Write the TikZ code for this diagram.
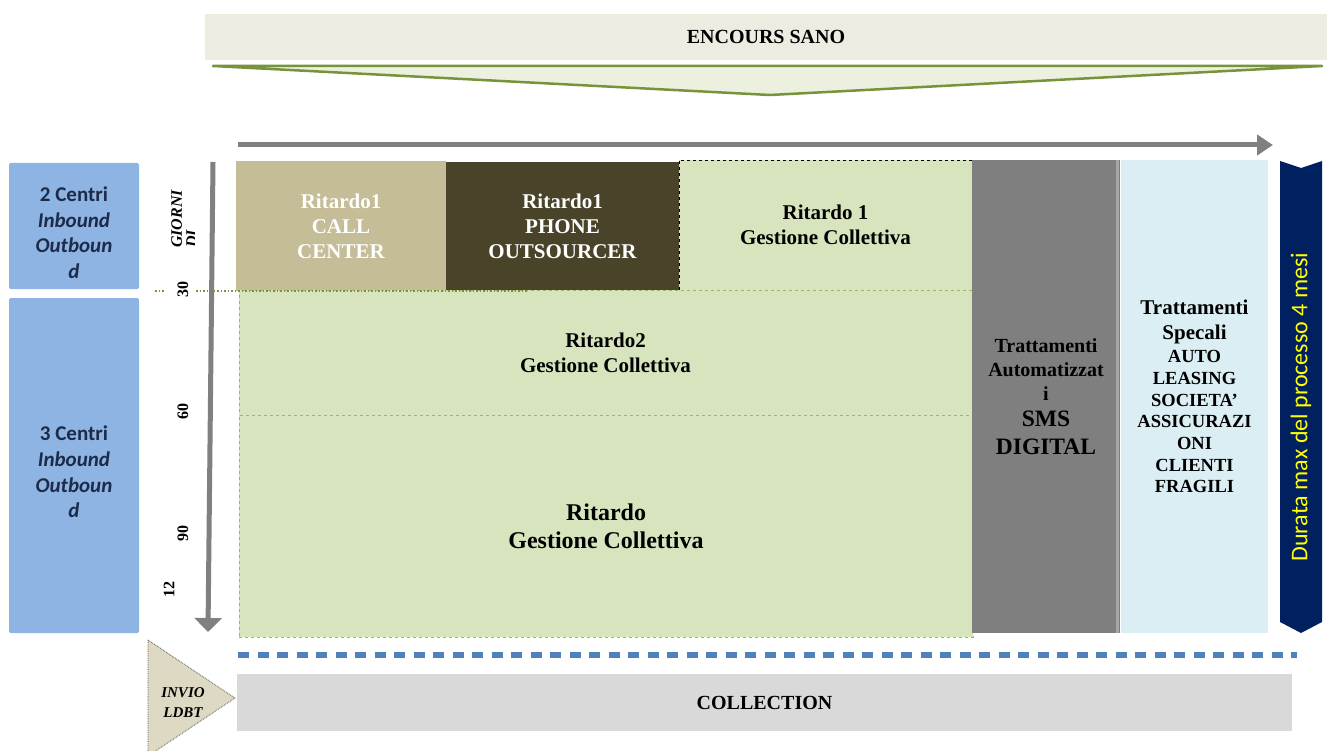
\documentclass[tikz,border=0pt]{standalone}
\usepackage{fontspec}
\setmainfont{Liberation Serif}
\newfontfamily\calibri{Carlito}
\usetikzlibrary{arrows.meta}
\definecolor{banner}{HTML}{EEECE1}
\definecolor{imbutofill}{HTML}{EBF1DE}
\definecolor{oliva}{HTML}{77933C}
\definecolor{grigio}{HTML}{808080}
\definecolor{centri}{HTML}{8EB4E3}
\definecolor{centritext}{HTML}{1C2B48}
\definecolor{callcenter}{HTML}{C4BD97}
\definecolor{outsourcer}{HTML}{494429}
\definecolor{verde}{HTML}{D7E4BD}
\definecolor{verdebordo}{HTML}{9BBB59}
\definecolor{grigiocol}{HTML}{7F7F7F}
\definecolor{grigiochiaro}{HTML}{A6A6A6}
\definecolor{celeste}{HTML}{DBEEF4}
\definecolor{blunotte}{HTML}{002060}
\definecolor{giallo}{HTML}{FFFF00}
\definecolor{bluetratt}{HTML}{4F81BD}
\definecolor{invio}{HTML}{DDD9C3}
\definecolor{collection}{HTML}{D9D9D9}
\newcommand{\testogrande}[1]{{\fontsize{23.5}{24}\selectfont #1}}
\newcommand{\testopiccolo}[1]{{\fontsize{18.5}{21.7}\selectfont #1}}

\begin{document}
\begin{tikzpicture}[x=1pt,y=-1pt,
    box/.style={anchor=north west,inner sep=0pt,outer sep=0pt,align=center,
      font=\bfseries\fontsize{21}{25}\selectfont},
    centro/.style={box,fill=centri,rounded corners=2pt,text=centritext,
      font=\calibri\bfseries\fontsize{21}{25.7}\selectfont},
    greenbox/.style={box,fill=verde,draw=verdebordo,dashed,line width=0.8pt},
    num/.style={rotate=90,inner sep=0pt,font=\bfseries\fontsize{16}{16}\selectfont},
    freccia/.style={draw=grigio,line width=5pt}]
  \clip (0,0) rectangle (1327,751);
  \fill[white] (0,0) rectangle (1327,751);

  \node[box,fill=banner,minimum width=1122pt,minimum height=46pt,
    font=\bfseries\fontsize{20}{24}\selectfont] (encours) at (205,14) {ENCOURS SANO};
  \coordinate (imbuto) at (770,95);
  \draw[fill=imbutofill,draw=oliva,line width=2.5pt,line join=round]
    (213,66) -- (1322,66) -- (imbuto) -- cycle;

  \node[centro,minimum width=130pt,minimum height=126pt] (centri2) at (9,163)
    {\rule{0pt}{28pt}2 Centri\\\textit{Inbound}\\\textit{Outboun}\\\textit{d}};
  \node[centro,minimum width=130pt,minimum height=335pt] (centri3) at (9,298)
    {\rule{0pt}{28pt}3 Centri\\\textit{Inbound}\\\textit{Outboun}\\\textit{d}};

  \node[box,fill=callcenter,text=white,minimum width=210pt,minimum height=130pt] (callc) at (236,161)
    {Ritardo1\\CALL\\CENTER};
  \node[box,fill=outsourcer,text=white,minimum width=233pt,minimum height=129pt] (phone) at (446,162)
    {Ritardo1\\PHONE\\OUTSOURCER};
  \node[box,fill=verde,minimum width=293pt,minimum height=130pt] (rit1) at (679,160)
    {Ritardo 1\\Gestione Collettiva};
  \draw[dashed,line width=0.8pt] (rit1.south west) -- (rit1.north west) -- (rit1.north east);

  \node[greenbox,minimum width=733pt,minimum height=125pt] (rit2) at (239,290)
    {Ritardo2\\Gestione Collettiva};
  \node[greenbox,minimum width=734pt,minimum height=222pt,
    font=\bfseries\fontsize{24}{28}\selectfont] (rit) at (239,415) {Ritardo\\Gestione Collettiva};

  \node[box,fill=grigiocol,minimum width=148pt,minimum height=473pt,
    font=\bfseries\fontsize{20}{24}\selectfont] (automatici) at (972,160)
    {Trattamenti\\Automatizzat\\i\\[2pt]\testogrande{SMS}\\[4pt]\testogrande{DIGITAL}};
  \draw[grigiochiaro,line width=3pt] ([xshift=-2.5pt]automatici.north east) -- ([xshift=-2.5pt]automatici.south east);
  \node[box,fill=celeste,minimum width=147pt,minimum height=473pt,
    font=\bfseries\fontsize{21}{21.7}\selectfont] (speciali) at (1121,160)
    {Trattamenti\\[3pt]Specali\\[2pt]\testopiccolo{AUTO}\\\testopiccolo{LEASING}\\\testopiccolo{SOCIETA’}\\
     \testopiccolo{ASSICURAZI}\\\testopiccolo{ONI}\\\testopiccolo{CLIENTI}\\\testopiccolo{FRAGILI}};

  \fill[blunotte] (1280,161) -- (1301,168) -- (1322,161) -- (1322,622) -- (1301,633) -- (1280,622) -- cycle;
  \node[rotate=90,text=giallo,font=\calibri\fontsize{24}{28}\selectfont] (durata) at (1301,407)
    {Durata max del processo 4 mesi};

  \draw[oliva,dotted,line width=1.5pt] (155,291) -- (164,291) (196,291) -- (528,291);

  \begin{scope}
    \clip (150,150) rectangle (194,289);
    \node[rotate=90,anchor=west,inner sep=0pt,align=left,
      font=\bfseries\itshape\fontsize{16}{15}\selectfont] (giorni) at (184,248) {GIORNI\\DI};
  \end{scope}
  \foreach \g/\y in {30/290,60/411,90/533}
    \node[num] (g\g) at (183,\y) {\g};
  \node[num] (g120) at (169,589) {12};

  \coordinate (tempoA) at (213,162);
  \coordinate (tempoB) at (208,632);
  \draw[freccia,-{Triangle[length=14pt,width=27pt]}] (tempoA) -- (tempoB);
  \coordinate (fasiA) at (238,145);
  \coordinate (fasiB) at (1273,145);
  \draw[freccia,-{Triangle[length=16pt,width=20pt]}] (fasiA) -- (fasiB);

  \coordinate (sogliaA) at (238,655);
  \coordinate (sogliaB) at (1297,655);
  \draw[bluetratt,line width=5.5pt,dash pattern=on 11pt off 8.5pt] (sogliaA) -- (sogliaB);

  \draw[densely dotted,draw=black!70,fill=invio,line width=0.8pt] (148,640) -- (235,698) -- (148,756) -- cycle;
  \node[font=\bfseries\itshape\fontsize{15}{20}\selectfont,align=center] (ldbt) at (183,703) {INVIO\\LDBT};
  \node[box,fill=collection,minimum width=1055pt,minimum height=57pt,
    font=\bfseries\fontsize{20}{24}\selectfont] (coll) at (237,674) {COLLECTION};
\end{tikzpicture}
\end{document}
